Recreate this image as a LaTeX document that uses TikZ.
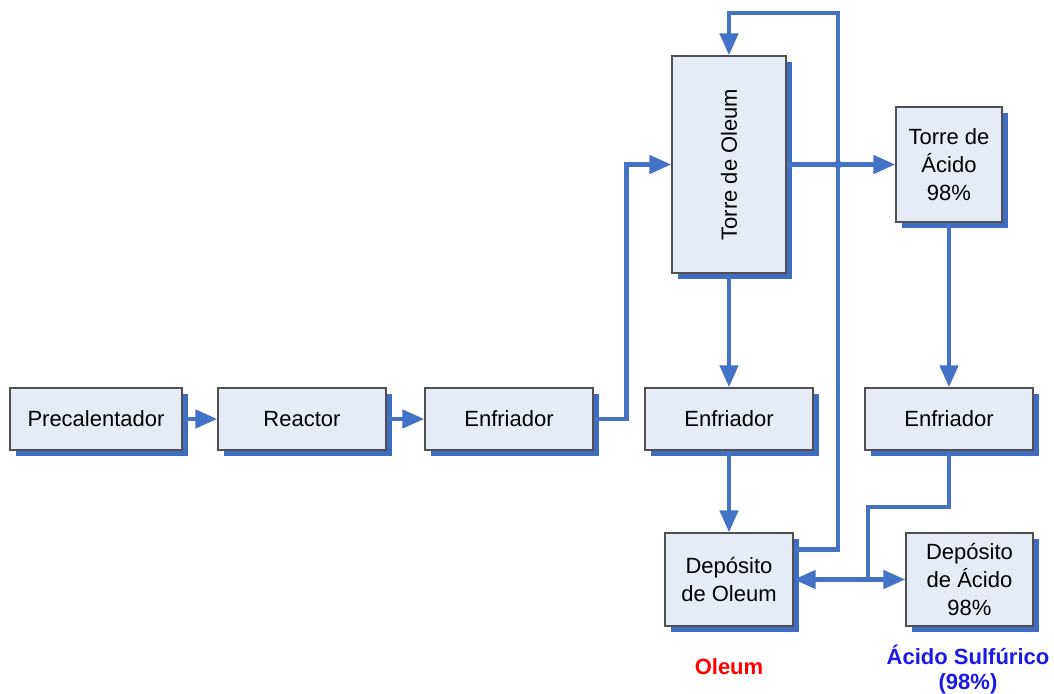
\documentclass[tikz,border=0pt]{standalone}
\usepackage{fontspec}
\setmainfont{Liberation Sans}
\usetikzlibrary{arrows.meta,shadows}
\definecolor{flowblue}{HTML}{4472C4}
\definecolor{shadowblue}{HTML}{3E6CC0}
\definecolor{boxfill}{HTML}{E6ECF6}
\definecolor{boxline}{HTML}{505050}
\definecolor{labred}{HTML}{FF0000}
\definecolor{labblue}{HTML}{1A1AE6}
\tikzset{
  unit box/.style={draw=boxline, line width=1.3pt, fill=boxfill, inner sep=0pt,
    align=center, font=\fontsize{22}{28}\selectfont,
    drop shadow={shadow xshift=6pt, shadow yshift=-6pt, fill=shadowblue, opacity=1}},
  flowline/.style={draw=flowblue, line width=4.6pt},
  flow/.style={flowline, -{Triangle[length=22pt,width=18pt]}},
  biflow/.style={flowline, {Triangle[length=22pt,width=18pt]}-{Triangle[length=22pt,width=18pt]}},
  outlabel/.style={font=\fontsize{22}{25}\selectfont\bfseries, align=center}
}
\begin{document}
\begin{tikzpicture}[x=1pt,y=-1pt]
\useasboundingbox (0,0) rectangle (1054,693);
% boxes
\node[unit box, minimum width=172pt, minimum height=62pt] (pre) at (96,419) {Precalentador};
\node[unit box, minimum width=168pt, minimum height=62pt] (rea) at (302,419) {Reactor};
\node[unit box, minimum width=168pt, minimum height=62pt] (enf1) at (509,419) {Enfriador};
\node[unit box, minimum width=114pt, minimum height=217pt,
  label={[rotate=90, font=\fontsize{22}{28}\selectfont]center:Torre de Oleum}] (to) at (729,164.5) {};
\node[unit box, minimum width=106pt, minimum height=115pt] (ta) at (949,164.5) {Torre de\\Ácido\\98\%};
\node[unit box, minimum width=168pt, minimum height=62pt] (enf2) at (729,419) {Enfriador};
\node[unit box, minimum width=168pt, minimum height=62pt] (enf3) at (949,419) {Enfriador};
\node[unit box, minimum width=128pt, minimum height=93pt] (dol) at (729,579.5) {Depósito\\de Oleum};
\node[unit box, minimum width=127pt, minimum height=93pt] (dac) at (969.5,579.5) {Depósito\\de Ácido\\98\%};
% output labels
\node[outlabel, text=labred] (lole) at (729,667) {Oleum};
\node[outlabel, text=labblue] (lacid) at (968,670) {Ácido Sulfúrico\\(98\%)};
% helper coordinates
\coordinate (top) at (838,13);
\coordinate (junc) at (838,164.5);
\coordinate (bend) at (868,507);
\coordinate (split) at (868,579.5);
% connectors
\draw[flow] (pre) -- (rea);
\draw[flow] (rea) -- (enf1);
\draw[flow] (enf1.east) -- ++(33,0) |- (to.west);
\draw[flow] (to.east) -- (ta.west);
\draw[flow] (to.south) -- (enf2.north);
\draw[flow] (enf2.south) -- (dol.north);
\draw[flow] ([yshift=30pt]dol.east) -| (top) -| (to.north);
\fill[flowblue] (junc) circle (4pt);
\draw[flow] (ta.south) -- (enf3.north);
\draw[flowline] (enf3.south) |- (bend) -- (split);
\draw[biflow] (dol.east) -- (dac.west);
\end{tikzpicture}
\end{document}
